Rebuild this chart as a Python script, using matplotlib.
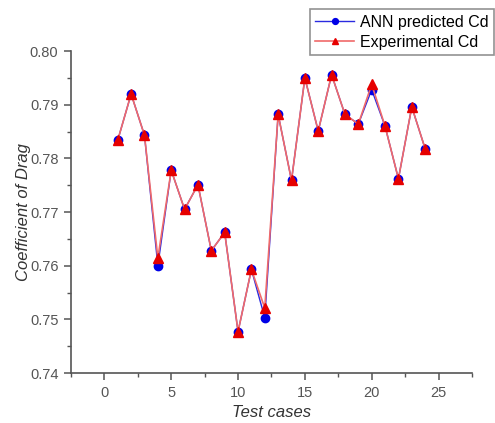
import numpy as np
import matplotlib.pyplot as plt
from matplotlib.ticker import MultipleLocator

plt.rcParams['font.family'] = ['Liberation Sans', 'DejaVu Sans']

# test case numbers and drag coefficients
cases = np.arange(1, 25)
cd_ann = [0.7834, 0.7920, 0.7843, 0.7600, 0.7778, 0.7705, 0.7751, 0.7628,
          0.7662, 0.7477, 0.7593, 0.7503, 0.7882, 0.7759, 0.7950, 0.7851,
          0.7956, 0.7882, 0.7864, 0.7928, 0.7860, 0.7762, 0.7896, 0.7818]
cd_exp = [0.7834, 0.7920, 0.7843, 0.7614, 0.7778, 0.7705, 0.7751, 0.7628,
          0.7662, 0.7477, 0.7593, 0.7521, 0.7882, 0.7759, 0.7950, 0.7851,
          0.7956, 0.7882, 0.7864, 0.7938, 0.7860, 0.7762, 0.7896, 0.7818]

fig = plt.figure(figsize=(4.95, 4.23), dpi=100)
ax = fig.add_axes([0.1434, 0.1182, 0.810, 0.761])

ax.plot(cases, cd_ann, color='#2a2ae0', lw=1.0, marker='o', ms=6,
        mfc='#0000e6', mec='#0000e6', label='ANN predicted Cd', zorder=3)
ax.plot(cases, cd_exp, color='#f06a6a', lw=1.2, marker='^', ms=6.5,
        mfc='#e60000', mec='#e60000', label='Experimental Cd', zorder=4)

ax.set_xlim(-2.5, 27.5)
ax.set_ylim(0.74, 0.80)
ax.xaxis.set_major_locator(MultipleLocator(5))
ax.xaxis.set_minor_locator(MultipleLocator(2.5))
ax.yaxis.set_major_locator(MultipleLocator(0.01))
ax.yaxis.set_minor_locator(MultipleLocator(0.005))
ax.yaxis.set_major_formatter(plt.FormatStrFormatter('%.2f'))

for s in ['top', 'right']:
    ax.spines[s].set_visible(False)
for s in ['left', 'bottom']:
    ax.spines[s].set_color('#555555')
    ax.spines[s].set_linewidth(1.2)

ax.tick_params(which='major', direction='out', length=5, width=1.1,
               color='#555555', labelsize=10.5, labelcolor='#555555', pad=4)
ax.tick_params(which='minor', direction='out', length=3, width=1.0,
               color='#555555')

ax.set_xlabel('Test cases', fontsize=12, style='italic', color='#333333',
              labelpad=4)
ax.set_ylabel('Coefficient of Drag', fontsize=12, style='italic',
              color='#333333', labelpad=-1)

leg = ax.legend(loc='upper right', bbox_to_anchor=(1.056, 1.13), fontsize=11.5,
                frameon=True, fancybox=False, handlelength=2.4,
                borderpad=0.35, labelspacing=0.3, handletextpad=0.4,
                borderaxespad=0, markerscale=0.7)
leg.get_frame().set_edgecolor('#777777')
leg.get_frame().set_linewidth(1.2)

fig.savefig('out.png', dpi=100)
